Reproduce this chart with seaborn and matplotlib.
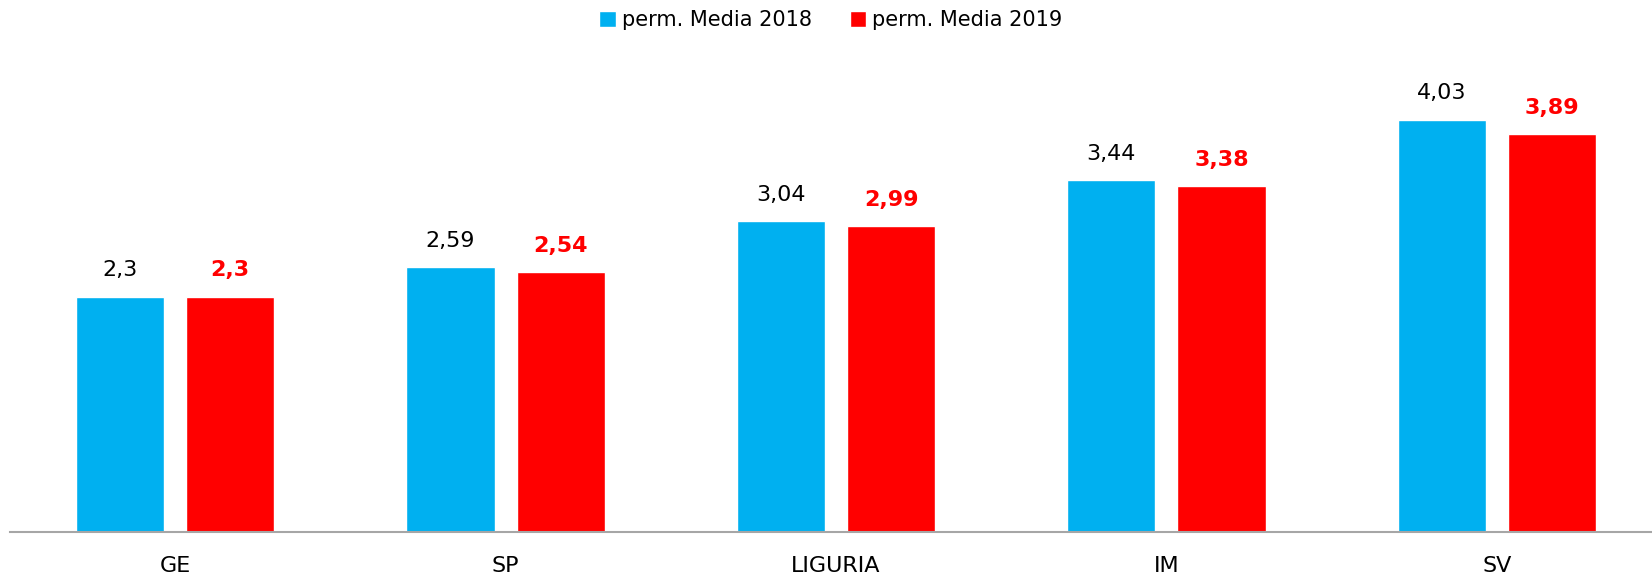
import matplotlib
matplotlib.use("Agg")
import matplotlib.pyplot as plt
import seaborn as sns
import pandas as pd

categories = ["GE", "SP", "LIGURIA", "IM", "SV"]
series_names = ["perm. Media 2018", "perm. Media 2019"]
values_2018 = [2.3, 2.59, 3.04, 3.44, 4.03]
values_2019 = [2.3, 2.54, 2.99, 3.38, 3.89]
colors = ["#00B0F0", "#FF0000"]

df = pd.DataFrame({
    "cat": categories * 2,
    "serie": [series_names[0]] * 5 + [series_names[1]] * 5,
    "val": values_2018 + values_2019,
})

sns.set_theme(style="white")
plt.rcParams["font.family"] = ["DejaVu Sans"]
plt.rcParams["text.color"] = "black"

fig = plt.figure(figsize=(16.52, 5.74), dpi=100)
ax = fig.add_axes([10 / 1652, 42 / 574, 1 - 10 / 1652, (532 - 72) / 574])

sns.barplot(data=df, x="cat", y="val", hue="serie", order=categories,
            hue_order=series_names, palette=colors, width=0.667, gap=0.2,
            saturation=1, ax=ax, legend=True)

ax.set_xlim(-0.5, 4.47)
ax.set_ylim(0, 4.5)
ax.set_xlabel("")
ax.set_ylabel("")
ax.set_yticks([])
for s in ["top", "right", "left"]:
    ax.spines[s].set_visible(False)
ax.spines["bottom"].set_color("#A6A6A6")
ax.spines["bottom"].set_linewidth(1.5)
ax.tick_params(axis="x", length=0, labelsize=16, pad=17, colors="black")

for i, cont in enumerate(ax.containers):
    vals = values_2018 if i == 0 else values_2019
    labels = [str(v).replace(".", ",") for v in vals]
    ax.bar_label(cont, labels=labels, padding=12, fontsize=16,
                 color="black" if i == 0 else "#FF0000",
                 fontweight="normal" if i == 0 else "bold")

handles, labs = ax.get_legend_handles_labels()
ax.legend_.remove()
leg = fig.legend(handles, labs, loc="center", bbox_to_anchor=(0.503, 0.965), ncol=2,
                 frameon=False, fontsize=15, handlelength=0.8, handleheight=0.8,
                 handletextpad=0.3, columnspacing=1.8)
for t in leg.get_texts():
    t.set_color("black")

fig.savefig("out.png", dpi=100)
